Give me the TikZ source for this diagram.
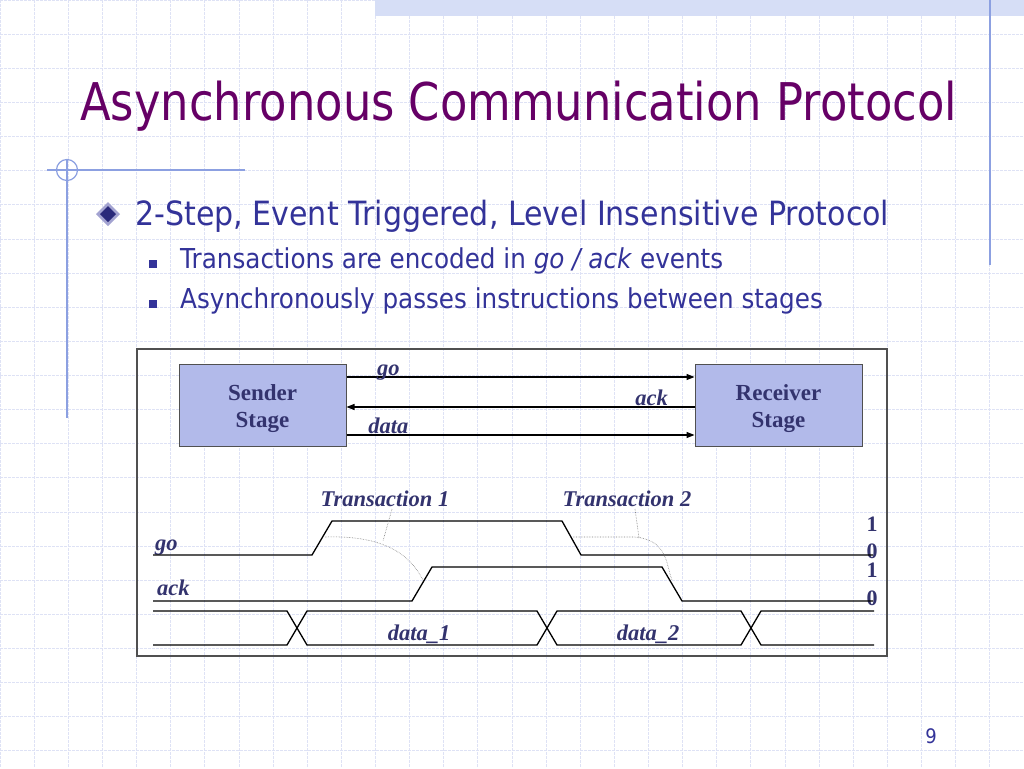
\documentclass[tikz,border=0pt]{standalone}
\usepackage{fontspec}
\setmainfont[FakeStretch=0.9]{DejaVu Sans}
\newfontfamily\titlefont[FakeStretch=0.862]{DejaVu Sans}
\newfontfamily\timesfont{Liberation Serif}
\usetikzlibrary{arrows.meta}

\definecolor{titlepurple}{RGB}{102,0,102}
\definecolor{textblue}{RGB}{51,51,153}
\definecolor{labelblue}{RGB}{51,51,110}
\definecolor{gridblue}{RGB}{222,226,245}
\definecolor{bandblue}{RGB}{214,222,246}
\definecolor{decoblue}{RGB}{140,160,225}
\definecolor{stagefill}{RGB}{178,186,234}
\definecolor{framegray}{RGB}{80,80,80}

\tikzset{
    gridline/.style={gridblue, line width=0.8pt, dash pattern=on 3pt off 1pt},
    decoline/.style={decoblue, line width=1.2pt},
    bodytext/.style={text=textblue, inner sep=0pt, anchor=base west},
    stagebox/.style={draw=framegray, line width=1pt, fill=stagefill,
        minimum width=167pt, minimum height=82pt, align=center, text=labelblue,
        font=\timesfont\bfseries\fontsize{23}{27}\selectfont},
    wirelabel/.style={text=labelblue, inner sep=0pt, anchor=base,
        font=\timesfont\bfseries\itshape\fontsize{22.5}{26}\selectfont},
    levellabel/.style={text=labelblue, inner sep=0pt, anchor=base,
        font=\timesfont\bfseries\fontsize{22}{26}\selectfont},
    wire/.style={line width=1.2pt, -{Triangle[length=8pt,width=6pt]}},
    wave/.style={line width=1.3pt, black},
    hint/.style={gray, line width=0.6pt, densely dotted},
}

\begin{document}
\begin{tikzpicture}[x=1pt, y=-1pt]
    \useasboundingbox (0,0) rectangle (1024,768);
    \fill[white] (0,0) rectangle (1024,768);
    \foreach \k in {0,...,30}
        \draw[gridline] (34.13*\k,0) -- (34.13*\k,768);
    \foreach \k in {0,...,22}
        \draw[gridline] (0,34.13*\k) -- (1024,34.13*\k);
    \fill[bandblue] (375,0) rectangle (1024,16);
    \draw[decoline] (990,0) -- (990,265);
    \draw[decoline] (67,160) -- (67,418);
    \draw[decoline] (47,170) -- (245,170);
    \draw[decoline] (67,170) circle (10.5);

    \node[anchor=base west, inner sep=0pt, text=titlepurple,
        font=\titlefont\fontsize{52}{62}\selectfont] (title) at (80,120)
        {Asynchronous Communication Protocol};

    \fill[textblue!45] (108,202) -- (120,214) -- (108,226) -- (96,214) -- cycle;
    \fill[textblue!80!black] (108,206) -- (116,214) -- (108,222) -- (100,214) -- cycle;
    \node[bodytext, font=\fontsize{33.4}{40}\selectfont] (point) at (135,225)
        {2-Step, Event Triggered, Level Insensitive Protocol};
    \fill[textblue] (149,259.5) rectangle (157,267.5);
    \fill[textblue] (149,299.5) rectangle (157,307.5);
    \node[bodytext, font=\fontsize{27.4}{33}\selectfont] (subA) at (180,268)
        {Transactions are encoded in \textit{go / ack} events};
    \node[bodytext, font=\fontsize{27.4}{33}\selectfont] (subB) at (180,308)
        {Asynchronously passes instructions between stages};

    \draw[framegray, line width=1.2pt] (137,349) rectangle (887,656);
    \node[stagebox] (snd) at (262.5,405) {\rule{0pt}{23pt}Sender\\Stage};
    \node[stagebox] (rcv) at (778.5,405) {\rule{0pt}{23pt}Receiver\\Stage};
    \draw[wire] ([yshift=28pt]snd.east) --
        node[wirelabel, pos=0.12, yshift=2pt] {go} ([yshift=28pt]rcv.west);
    \draw[wire] ([yshift=-2pt]rcv.west) --
        node[wirelabel, pos=0.123, yshift=2pt] {ack} ([yshift=-2pt]snd.east);
    \draw[wire] ([yshift=-30pt]snd.east) --
        node[wirelabel, pos=0.12, yshift=2pt] {data} ([yshift=-30pt]rcv.west);

    \node[wirelabel] (trans1) at (385,506) {Transaction 1};
    \node[wirelabel] (trans2) at (627,506) {Transaction 2};
    \node[wirelabel, anchor=base west] (golbl) at (155,550) {go};
    \node[wirelabel, anchor=base west] (acklbl) at (157,595) {ack};
    \node[wirelabel] (data1) at (419,640) {data\_1};
    \node[wirelabel] (data2) at (648,640) {data\_2};
    \node[levellabel] (goone) at (872,531) {1};
    \node[levellabel] (gozero) at (872,558) {0};
    \node[levellabel] (ackone) at (872,577) {1};
    \node[levellabel] (ackzero) at (872,605) {0};

    \draw[wave] (153,555) -- (312,555) -- (332,521) -- (562,521)
        -- (581,555) -- (873,555);
    \draw[wave] (153,601) -- (412,601) -- (432,567) -- (662,567)
        -- (682,601) -- (873,601);
    \draw[wave] (153,611) -- (287,611) -- (307,645) -- (537,645) -- (557,611)
        -- (741,611) -- (761,645) -- (874,645);
    \draw[wave] (153,645) -- (287,645) -- (307,611) -- (537,611) -- (557,645)
        -- (741,645) -- (761,611) -- (874,611);

    \draw[hint] (325,537) .. controls (385,535) and (410,555) .. (423,580);
    \draw[hint] (392,509) -- (383,541);
    \draw[hint] (573,537) -- (635,537) .. controls (668,540) and (666,565) .. (672,580);
    \draw[hint] (635,509) -- (639,538);

    \node[anchor=base, inner sep=0pt, text=textblue,
        font=\fontsize{20}{24}\selectfont] (pagenum) at (931,743) {9};
\end{tikzpicture}
\end{document}
